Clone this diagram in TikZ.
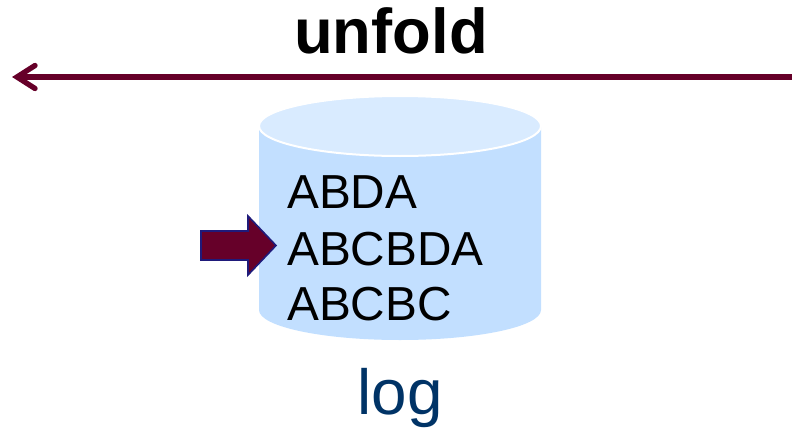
\documentclass[tikz,border=0pt]{standalone}
\usepackage{fontspec}
\setmainfont{Liberation Sans}
\usepackage{xcolor}
\definecolor{logbody}{RGB}{194,223,255}
\definecolor{logtop}{RGB}{217,235,255}
\definecolor{maroonline}{RGB}{102,0,41}
\definecolor{arrowedge}{RGB}{31,26,122}
\definecolor{lognavy}{RGB}{0,51,102}
\tikzset{
  unfoldline/.style={color=maroonline,line width=4pt},
  logtext/.style={anchor=base west,inner sep=0.75pt,font=\fontsize{35.8}{42}\selectfont},
}

\begin{document}
\begin{tikzpicture}[x=0.75pt,y=0.75pt,yscale=-1,xscale=1]
\useasboundingbox (0,0) rectangle (792,428);

% Cylinder body
\fill [logbody] (259,126) -- (259,310) arc [start angle=180, end angle=0, x radius=141, y radius=30] -- (541,126) -- cycle;
% Cylinder top
\draw [color=white,line width=1.5pt,fill=logtop] (259,126) arc [start angle=180, end angle=540, x radius=141, y radius=30] -- cycle;

% Unfold line
\coordinate (unfoldstart) at (792,77);
\coordinate (unfoldend) at (17,77);
\coordinate (wingup) at (35,65.5);
\coordinate (wingdown) at (35,88.5);
\draw [unfoldline] (unfoldstart) -- (unfoldend);
\draw [unfoldline,line cap=round,miter limit=10] (wingup) -- (unfoldend) -- (wingdown);

% Block arrow
\draw [color=arrowedge,line width=1.2pt,fill=maroonline,line join=miter] (201,231) -- (248,231) -- (248,216) -- (276,245.5) -- (248,275) -- (248,260) -- (201,260) -- cycle;

% Text Node
\node (unfoldlabel) at (391,54) [anchor=base,inner sep=0.75pt,font=\fontsize{47.5}{56}\selectfont\bfseries] {unfold};
% Text Node
\node (firstlog) at (286,208.5) [logtext] {ABDA};
% Text Node
\node (secondlog) at (286,265) [logtext] {ABCBDA};
% Text Node
\node (thirdlog) at (286,320.5) [logtext] {ABCBC};
% Text Node
\node (loglabel) at (400,414) [anchor=base,inner sep=0.75pt,font=\fontsize{47.8}{56}\selectfont,color=lognavy] {log};
\end{tikzpicture}
\end{document}
